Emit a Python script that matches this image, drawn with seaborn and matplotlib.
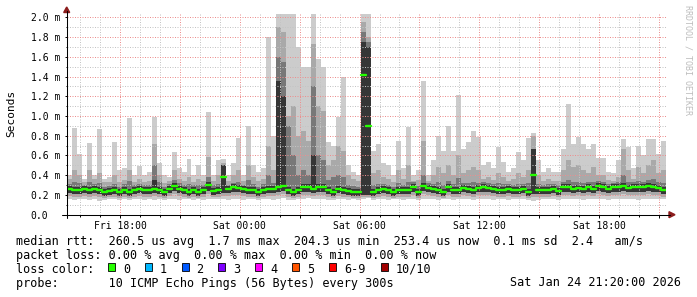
import numpy as np
import pandas as pd
import matplotlib
matplotlib.use("Agg")
import matplotlib.pyplot as plt
import matplotlib.dates as mdates
from matplotlib.ticker import MultipleLocator, FuncFormatter
from matplotlib.patches import Rectangle, Polygon
from matplotlib.lines import Line2D
import seaborn as sns

# ---------------- data (milliseconds, 15-minute bins from Fri 15:20) ----------------
START = "2026-01-23 15:20"
STEP = "15min"

median_ms = [
    0.26, 0.25, 0.25, 0.26, 0.25, 0.26, 0.25, 0.23, 0.24, 0.25, 0.23, 0.25, 0.23, 0.25, 0.26,
    0.25, 0.25, 0.26, 0.25, 0.23, 0.26, 0.29, 0.26, 0.25, 0.23, 0.25, 0.23, 0.25, 0.30, 0.24,
    0.25, 0.38, 0.26, 0.28, 0.27, 0.26, 0.25, 0.25, 0.23, 0.25, 0.26, 0.26, 0.28, 0.29, 0.25,
    0.23, 0.25, 0.28, 0.28, 0.26, 0.28, 0.28, 0.25, 0.23, 0.26, 0.25, 0.24, 0.23, 0.23, 1.42,
    0.90, 0.23, 0.25, 0.26, 0.25, 0.23, 0.25, 0.25, 0.25, 0.28, 0.23, 0.29, 0.27, 0.26, 0.25,
    0.23, 0.28, 0.25, 0.25, 0.27, 0.26, 0.25, 0.27, 0.28, 0.27, 0.26, 0.25, 0.25, 0.26, 0.25,
    0.25, 0.26, 0.23, 0.40, 0.25, 0.25, 0.25, 0.26, 0.24, 0.28, 0.28, 0.26, 0.27, 0.26, 0.28,
    0.26, 0.29, 0.28, 0.26, 0.28, 0.28, 0.29, 0.27, 0.28, 0.28, 0.28, 0.29, 0.28, 0.27, 0.25,
]

# smoke: lowest / highest ping (light), 2nd pair (mid), 3rd pair (dark), core (darkest)
lo_light = [
    0.16, 0.15, 0.16, 0.16, 0.15, 0.16, 0.14, 0.15, 0.16, 0.16, 0.15, 0.16, 0.15, 0.16, 0.16,
    0.15, 0.16, 0.15, 0.16, 0.15, 0.16, 0.16, 0.15, 0.16, 0.16, 0.15, 0.16, 0.15, 0.16, 0.16,
    0.16, 0.16, 0.15, 0.16, 0.16, 0.15, 0.16, 0.16, 0.15, 0.16, 0.16, 0.15, 0.16, 0.17, 0.15,
    0.15, 0.16, 0.16, 0.17, 0.16, 0.16, 0.16, 0.15, 0.15, 0.16, 0.16, 0.15, 0.16, 0.15, 0.16,
    0.17, 0.15, 0.16, 0.16, 0.15, 0.16, 0.16, 0.15, 0.16, 0.16, 0.15, 0.16, 0.16, 0.16, 0.15,
    0.16, 0.16, 0.15, 0.16, 0.16, 0.16, 0.15, 0.16, 0.16, 0.16, 0.15, 0.16, 0.16, 0.15, 0.16,
    0.16, 0.16, 0.15, 0.14, 0.15, 0.16, 0.16, 0.16, 0.15, 0.16, 0.16, 0.16, 0.16, 0.15, 0.16,
    0.16, 0.16, 0.16, 0.15, 0.16, 0.16, 0.16, 0.16, 0.16, 0.15, 0.16, 0.16, 0.16, 0.16, 0.16,
]
hi_light = [
    0.40, 0.88, 0.62, 0.36, 0.73, 0.40, 0.87, 0.36, 0.38, 0.74, 0.45, 0.47, 0.98, 0.40, 0.49,
    0.40, 0.43, 0.99, 0.52, 0.40, 0.38, 0.64, 0.47, 0.43, 0.56, 0.40, 0.50, 0.40, 1.04, 0.40,
    0.55, 0.56, 0.40, 0.52, 0.78, 0.40, 0.90, 0.50, 0.43, 0.47, 1.80, 0.80, 2.05, 2.05, 2.05,
    2.05, 1.70, 1.50, 1.50, 2.05, 1.58, 1.50, 0.74, 0.70, 0.99, 1.40, 0.50, 0.43, 0.40, 2.05,
    2.05, 0.65, 0.72, 0.52, 0.50, 0.40, 0.75, 0.47, 0.89, 0.40, 0.45, 1.36, 0.40, 0.55, 0.80,
    0.65, 0.90, 0.65, 1.21, 0.67, 0.74, 0.85, 0.79, 0.50, 0.53, 0.47, 0.69, 0.53, 0.43, 0.47,
    0.64, 0.55, 0.78, 0.83, 0.55, 0.43, 0.47, 0.43, 0.43, 0.67, 1.12, 0.72, 0.79, 0.72, 0.67,
    0.72, 0.57, 0.57, 0.43, 0.42, 0.55, 0.77, 0.69, 0.47, 0.70, 0.60, 0.77, 0.77, 0.62, 0.75,
]
lo_mid = [
    0.19, 0.18, 0.18, 0.19, 0.18, 0.19, 0.18, 0.17, 0.18, 0.18, 0.17, 0.18, 0.17, 0.18, 0.19,
    0.18, 0.18, 0.19, 0.18, 0.17, 0.19, 0.21, 0.19, 0.18, 0.17, 0.18, 0.17, 0.18, 0.21, 0.18,
    0.18, 0.19, 0.19, 0.20, 0.20, 0.19, 0.18, 0.18, 0.17, 0.18, 0.19, 0.19, 0.20, 0.21, 0.18,
    0.17, 0.18, 0.20, 0.20, 0.19, 0.20, 0.20, 0.18, 0.17, 0.19, 0.18, 0.18, 0.17, 0.17, 0.18,
    0.18, 0.17, 0.18, 0.19, 0.18, 0.17, 0.18, 0.18, 0.18, 0.20, 0.17, 0.21, 0.20, 0.19, 0.18,
    0.17, 0.20, 0.18, 0.18, 0.20, 0.19, 0.18, 0.20, 0.20, 0.20, 0.19, 0.18, 0.18, 0.19, 0.18,
    0.18, 0.19, 0.17, 0.18, 0.18, 0.18, 0.18, 0.19, 0.18, 0.20, 0.20, 0.19, 0.20, 0.19, 0.20,
    0.19, 0.21, 0.20, 0.19, 0.20, 0.20, 0.21, 0.20, 0.20, 0.20, 0.20, 0.21, 0.20, 0.20, 0.18,
]
hi_mid = [
    0.36, 0.45, 0.40, 0.33, 0.45, 0.36, 0.42, 0.33, 0.33, 0.40, 0.33, 0.35, 0.45, 0.33, 0.36,
    0.33, 0.34, 0.72, 0.40, 0.32, 0.34, 0.45, 0.36, 0.34, 0.38, 0.33, 0.36, 0.34, 0.58, 0.34,
    0.40, 0.52, 0.34, 0.40, 0.45, 0.34, 0.50, 0.38, 0.34, 0.36, 0.70, 0.45, 1.90, 1.85, 1.00,
    1.10, 0.80, 0.85, 0.75, 1.73, 1.10, 1.05, 0.50, 0.55, 0.70, 0.65, 0.40, 0.36, 0.34, 1.95,
    1.80, 0.42, 0.45, 0.38, 0.36, 0.33, 0.45, 0.36, 0.50, 0.34, 0.35, 0.75, 0.34, 0.40, 0.48,
    0.42, 0.50, 0.40, 0.60, 0.42, 0.45, 0.48, 0.45, 0.36, 0.38, 0.35, 0.42, 0.38, 0.34, 0.36,
    0.42, 0.38, 0.45, 0.80, 0.40, 0.34, 0.36, 0.34, 0.34, 0.45, 0.55, 0.48, 0.50, 0.45, 0.42,
    0.48, 0.40, 0.40, 0.35, 0.34, 0.38, 0.67, 0.45, 0.36, 0.48, 0.42, 0.50, 0.55, 0.42, 0.45,
]
lo_dark = [
    0.22, 0.21, 0.21, 0.22, 0.21, 0.22, 0.21, 0.19, 0.20, 0.21, 0.19, 0.21, 0.19, 0.21, 0.22,
    0.21, 0.21, 0.22, 0.21, 0.19, 0.22, 0.24, 0.22, 0.21, 0.19, 0.21, 0.19, 0.21, 0.24, 0.20,
    0.21, 0.22, 0.22, 0.23, 0.23, 0.22, 0.21, 0.21, 0.19, 0.21, 0.22, 0.22, 0.23, 0.24, 0.21,
    0.19, 0.21, 0.23, 0.23, 0.22, 0.23, 0.23, 0.21, 0.19, 0.22, 0.21, 0.20, 0.19, 0.19, 0.20,
    0.20, 0.19, 0.21, 0.22, 0.21, 0.19, 0.21, 0.21, 0.21, 0.23, 0.19, 0.24, 0.23, 0.22, 0.21,
    0.19, 0.23, 0.21, 0.21, 0.23, 0.22, 0.21, 0.23, 0.23, 0.23, 0.22, 0.21, 0.21, 0.22, 0.21,
    0.21, 0.22, 0.19, 0.21, 0.21, 0.21, 0.21, 0.22, 0.20, 0.23, 0.23, 0.22, 0.23, 0.22, 0.23,
    0.22, 0.24, 0.23, 0.22, 0.23, 0.23, 0.24, 0.23, 0.23, 0.23, 0.23, 0.24, 0.23, 0.23, 0.21,
]
hi_dark = [
    0.31, 0.33, 0.32, 0.30, 0.33, 0.31, 0.32, 0.28, 0.29, 0.31, 0.28, 0.31, 0.34, 0.30, 0.31,
    0.30, 0.30, 0.50, 0.33, 0.28, 0.31, 0.35, 0.32, 0.30, 0.31, 0.30, 0.30, 0.30, 0.38, 0.30,
    0.31, 0.50, 0.30, 0.32, 0.33, 0.30, 0.35, 0.31, 0.28, 0.31, 0.40, 0.32, 1.60, 1.55, 0.90,
    0.60, 0.40, 0.45, 0.40, 1.30, 0.60, 0.55, 0.35, 0.38, 0.40, 0.38, 0.30, 0.29, 0.28, 1.85,
    1.75, 0.30, 0.31, 0.31, 0.30, 0.28, 0.32, 0.30, 0.33, 0.33, 0.29, 0.40, 0.32, 0.31, 0.33,
    0.30, 0.34, 0.31, 0.37, 0.32, 0.32, 0.33, 0.32, 0.33, 0.32, 0.31, 0.32, 0.31, 0.31, 0.30,
    0.31, 0.31, 0.32, 0.67, 0.31, 0.30, 0.31, 0.31, 0.30, 0.33, 0.35, 0.33, 0.33, 0.32, 0.33,
    0.33, 0.34, 0.33, 0.31, 0.32, 0.33, 0.40, 0.33, 0.33, 0.34, 0.33, 0.35, 0.36, 0.33, 0.32,
]
hi_core = [
    0.29, 0.28, 0.28, 0.29, 0.28, 0.29, 0.28, 0.26, 0.27, 0.28, 0.26, 0.28, 0.26, 0.28, 0.29,
    0.28, 0.28, 0.35, 0.28, 0.26, 0.29, 0.32, 0.29, 0.28, 0.26, 0.28, 0.26, 0.28, 0.33, 0.27,
    0.28, 0.50, 0.29, 0.31, 0.30, 0.29, 0.28, 0.28, 0.26, 0.28, 0.29, 0.29, 1.35, 1.20, 0.28,
    0.26, 0.28, 0.31, 0.31, 0.60, 0.31, 0.31, 0.28, 0.26, 0.29, 0.28, 0.27, 0.26, 0.26, 1.75,
    1.70, 0.26, 0.28, 0.29, 0.28, 0.26, 0.28, 0.28, 0.28, 0.31, 0.26, 0.32, 0.30, 0.29, 0.28,
    0.26, 0.31, 0.28, 0.28, 0.30, 0.29, 0.28, 0.30, 0.31, 0.30, 0.29, 0.28, 0.28, 0.29, 0.28,
    0.28, 0.29, 0.26, 0.67, 0.28, 0.28, 0.28, 0.29, 0.27, 0.31, 0.31, 0.29, 0.30, 0.29, 0.31,
    0.29, 0.32, 0.31, 0.29, 0.31, 0.31, 0.32, 0.30, 0.31, 0.31, 0.31, 0.32, 0.31, 0.30, 0.28,
]

loss_labels = ["0", "1", "2", "3", "4", "5", "6-9", "10/10"]
loss_colors = ["#26ff00", "#00b8ff", "#0059ff", "#7e00ff", "#ff00ff", "#ff5500", "#ff0000", "#a10000"]

stats_rtt = "median rtt:  260.5 us avg  1.7 ms max  204.3 us min  253.4 us now  0.1 ms sd  2.4   am/s"
stats_loss = "packet loss: 0.00 % avg  0.00 % max  0.00 % min  0.00 % now"
probe_text = "probe:       10 ICMP Echo Pings (56 Bytes) every 300s"
stamp_text = "Sat Jan 24 21:20:00 2026"

# ---------------- figure ----------------
sns.set_style("white")
plt.rcParams["font.family"] = ["DejaVu Sans Mono", "DejaVu Sans"]
plt.rcParams["text.color"] = "black"

W, H = 697, 297
fig = plt.figure(figsize=(W / 100, H / 100), dpi=100)
fig.patch.set_facecolor("white")


def fx(px):
    return px / W


def fy(py):
    return 1 - py / H


AX_L, AX_R, AX_B, AX_T = 66.7, 665.7, 214.7, 14.4
ax = fig.add_axes([fx(AX_L), fy(AX_B), (AX_R - AX_L) / W, (AX_B - AX_T) / H])
ax.set_facecolor("white")

n = len(median_ms)
edges = pd.date_range(START, periods=n + 1, freq=STEP)


def ext(a):
    a = np.asarray(a, float)
    return np.append(a, a[-1])


layers = [
    (lo_light, hi_light, "#cccccc"),
    (lo_mid, hi_mid, "#a9a9a9"),
    (lo_dark, hi_dark, "#787878"),
    (lo_dark, hi_core, "#363636"),
]
for lo, hi, col in layers:
    ax.fill_between(edges, ext(lo), ext(hi), step="post", color=col, lw=0, zorder=1)

seg = pd.DataFrame({
    "time": np.concatenate([edges[:-1].values, edges[1:].values]),
    "rtt": np.concatenate([median_ms, median_ms]),
    "seg": np.concatenate([np.arange(n), np.arange(n)]),
})
sns.lineplot(data=seg, x="time", y="rtt", units="seg", estimator=None,
             color="#26ff00", lw=1.7, ax=ax, zorder=4, legend=False)

ax.set_xlim(edges[0], edges[-1])
ax.set_ylim(0, 2.03)
ax.set_xlabel("")
ax.set_ylabel("")

ax.xaxis.set_major_locator(mdates.HourLocator(byhour=range(0, 24, 3)))
ax.xaxis.set_minor_locator(mdates.HourLocator())


def xfmt(v, pos):
    d = mdates.num2date(v)
    return d.strftime("%a %H:%M") if d.hour % 6 == 0 else ""


ax.xaxis.set_major_formatter(FuncFormatter(xfmt))
ax.yaxis.set_major_locator(MultipleLocator(0.2))
ax.yaxis.set_minor_locator(MultipleLocator(0.1))
ax.yaxis.set_major_formatter(FuncFormatter(lambda v, p: "0.0" if abs(v) < 1e-9 else f"{v:.1f} m"))

ax.set_axisbelow(False)
ax.grid(which="minor", axis="both", color="#c4c4c4", lw=0.72, ls=(0, (1, 1.5)), zorder=2.4)
ax.grid(which="major", axis="both", color="#ec8e8e", lw=0.72, ls=(0, (1, 1.5)), zorder=2.6)
for s in ax.spines.values():
    s.set_visible(False)

ax.tick_params(axis="both", which="both", bottom=True, left=True, colors="black",
               width=0.7, labelcolor="black")
ax.tick_params(axis="x", which="major", length=2.2, pad=2.6, labelsize=7)
ax.tick_params(axis="x", which="minor", length=1.5)
ax.tick_params(axis="y", which="major", length=1.5, pad=(AX_L - 30.5) * 0.72 - 1.5, labelsize=7)
ax.tick_params(axis="y", which="minor", length=1.0)
plt.setp(ax.get_yticklabels(), ha="left")

# axis lines with arrow heads
fig.add_artist(Line2D([fx(62), fx(670)], [fy(AX_B), fy(AX_B)], color="black", lw=0.75))
fig.add_artist(Line2D([fx(AX_L), fx(AX_L)], [fy(217.5), fy(11)], color="black", lw=0.75))
fig.add_artist(Polygon([[fx(669), fy(211.7)], [fx(675), fy(AX_B)], [fx(669), fy(217.7)]],
                       closed=True, color="#8b1c1c", transform=fig.transFigure))
fig.add_artist(Polygon([[fx(63.7), fy(12.5)], [fx(AX_L), fy(7)], [fx(69.7), fy(12.5)]],
                       closed=True, color="#8b1c1c", transform=fig.transFigure))

# labels
fig.text(fx(11.5), fy(113.5), "Seconds", rotation=90, ha="center", va="center", fontsize=8)
fig.text(fx(688), fy(5), "RRDTOOL / TOBI OETIKER", rotation=-90, ha="center", va="top",
         fontsize=6, color="#bdbdbd")

LEG = 8.5
rows = [245.3, 259.0, 272.8, 286.5]
fig.text(fx(16), fy(rows[0]), stats_rtt, fontsize=LEG, va="baseline")
fig.text(fx(16), fy(rows[1]), stats_loss, fontsize=LEG, va="baseline")
fig.text(fx(16), fy(rows[2]), "loss color:", fontsize=LEG, va="baseline")
box_x = [108, 144.8, 181.6, 218.4, 255.2, 292, 328.8, 381]
for bx, lab, col in zip(box_x, loss_labels, loss_colors):
    fig.add_artist(Rectangle((fx(bx), fy(271)), 7 / W, 8 / H, transform=fig.transFigure,
                             facecolor=col, edgecolor="black", lw=0.6))
    fig.text(fx(bx + 15), fy(rows[2]), lab, fontsize=LEG, va="baseline")
fig.text(fx(16), fy(rows[3]), probe_text, fontsize=LEG, va="baseline")
fig.text(fx(681), fy(rows[3]), stamp_text, fontsize=LEG, va="baseline", ha="right")

fig.savefig("out.png", dpi=100, facecolor="white")
